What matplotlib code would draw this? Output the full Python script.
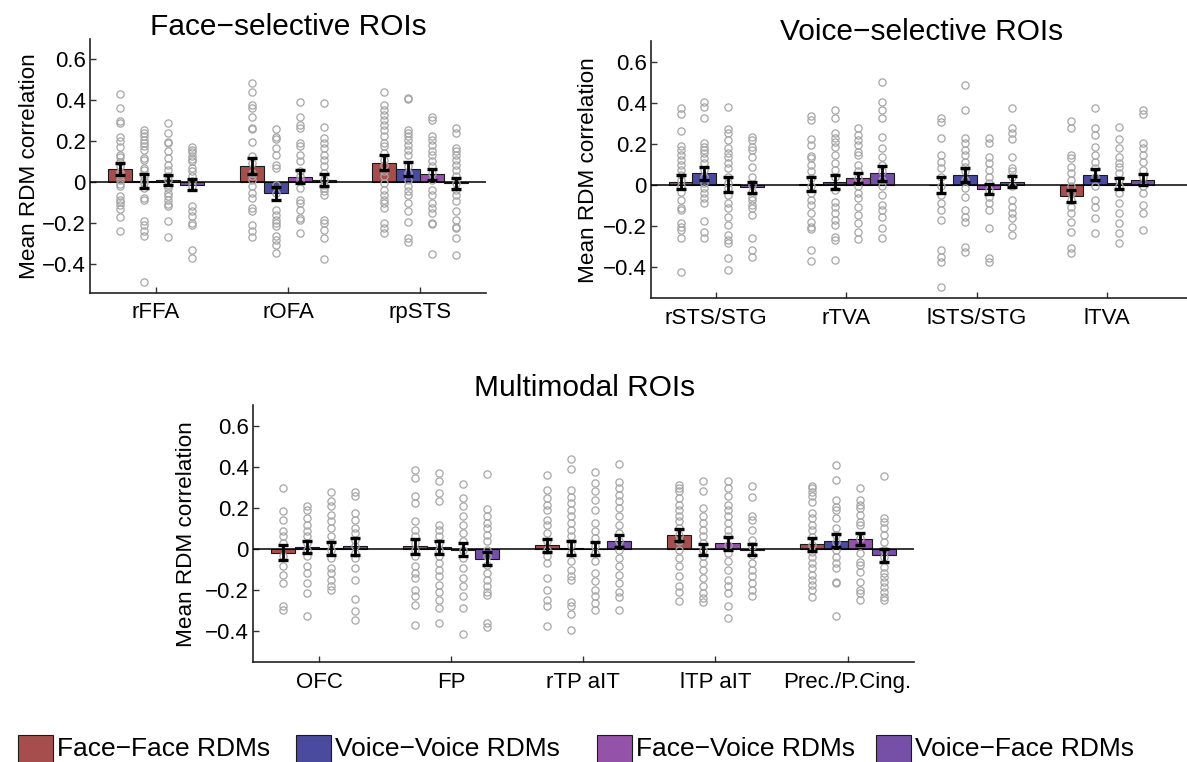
import matplotlib
matplotlib.use('Agg')
import matplotlib.pyplot as plt
from matplotlib.patches import Rectangle

plt.rcParams['font.family'] = ['Liberation Sans', 'DejaVu Sans']

# ---------------- data ----------------
series_names = ['Face\u2212Face RDMs', 'Voice\u2212Voice RDMs', 'Face\u2212Voice RDMs', 'Voice\u2212Face RDMs']
series_colors = ['#A64E4E', '#4A4A9E', '#9452A8', '#7650A6']

yticks = [0.6, 0.4, 0.2, 0.0, -0.2, -0.4]
ytick_labels = ['0.6', '0.4', '0.2', '0', '\u22120.2', '\u22120.4']

face_rois = ['rFFA', 'rOFA', 'rpSTS']
face_means = [[0.063, 0.005, 0.011, -0.013],
              [0.079, -0.056, 0.026, 0.011],
              [0.094, 0.065, 0.037, -0.006]]
face_sems = [[0.030, 0.033, 0.025, 0.027],
             [0.038, 0.033, 0.031, 0.029],
             [0.036, 0.034, 0.028, 0.028]]

voice_rois = ['rSTS/STG', 'rTVA', 'lSTS/STG', 'lTVA']
voice_means = [[0.016, 0.058, 0.005, -0.009],
               [0.006, 0.016, 0.036, 0.058],
               [0.002, 0.050, -0.018, 0.018],
               [-0.052, 0.052, 0.009, 0.028]]
voice_sems = [[0.032, 0.031, 0.037, 0.027],
              [0.033, 0.034, 0.025, 0.036],
              [0.038, 0.036, 0.026, 0.028],
              [0.029, 0.026, 0.025, 0.025]]

multi_rois = ['OFC', 'FP', 'rTP aIT', 'lTP aIT', 'Prec./P.Cing.']
multi_means = [[-0.020, 0.007, 0.002, 0.011],
               [0.011, 0.007, -0.004, -0.049],
               [0.017, 0.003, -0.001, 0.036],
               [0.067, -0.003, 0.026, -0.004],
               [0.022, 0.040, 0.049, -0.032]]
multi_sems = [[0.037, 0.029, 0.033, 0.040],
              [0.036, 0.033, 0.030, 0.031],
              [0.033, 0.036, 0.032, 0.029],
              [0.031, 0.026, 0.033, 0.029],
              [0.032, 0.032, 0.029, 0.033]]

# individual subject correlations (FF, VV, FV, VF) per ROI
rFFA_pts = [
    [0.43, 0.36, 0.30, 0.29, 0.22, 0.20, 0.17, 0.13, 0.12, 0.10, 0.08, 0.05, 0.04, 0.03, 0.01, -0.01, -0.02, -0.07, -0.09, -0.10, -0.11, -0.13, -0.17, -0.24],
    [0.255, 0.239, 0.223, 0.207, 0.19, 0.177, 0.158, 0.117, 0.109, 0.068, 0.06, 0.028, 0.011, -0.005, -0.029, -0.078, -0.089, -0.192, -0.208, -0.241, -0.265, -0.488],
    [0.288, 0.242, 0.198, 0.19, 0.15, 0.117, 0.085, 0.06, 0.028, 0.011, -0.013, -0.029, -0.054, -0.07, -0.086, -0.106, -0.119, -0.189, -0.27],
    [0.171, 0.158, 0.145, 0.128, 0.114, 0.101, 0.068, 0.052, 0.028, 0.003, -0.021, -0.119, -0.143, -0.167, -0.2, -0.208, -0.333, -0.371]]
rOFA_pts = [
    [0.483, 0.442, 0.377, 0.361, 0.32, 0.263, 0.26, 0.198, 0.125, 0.093, 0.044, 0.028, 0.011, -0.021, -0.054, -0.078, -0.127, -0.143, -0.208, -0.241, -0.268],
    [0.259, 0.22, 0.21, 0.166, 0.133, 0.085, 0.068, -0.013, -0.054, -0.135, -0.159, -0.184, -0.2, -0.216, -0.265, -0.281, -0.306, -0.346],
    [0.389, 0.32, 0.28, 0.263, 0.19, 0.174, 0.133, 0.101, 0.052, 0.028, 0.011, -0.029, -0.086, -0.102, -0.135, -0.176, -0.184, -0.249],
    [0.385, 0.268, 0.215, 0.19, 0.166, 0.133, 0.109, 0.076, 0.044, 0.011, -0.013, -0.029, -0.046, -0.062, -0.184, -0.2, -0.233, -0.273, -0.376]]
rpSTS_pts = [
    [0.442, 0.377, 0.353, 0.328, 0.304, 0.28, 0.255, 0.223, 0.19, 0.174, 0.141, 0.109, 0.085, 0.052, 0.028, -0.005, -0.037, -0.062, -0.086, -0.102, -0.127, -0.2, -0.224, -0.249],
    [0.41, 0.405, 0.255, 0.239, 0.223, 0.207, 0.182, 0.158, 0.133, 0.076, 0.044, 0.011, -0.021, -0.046, -0.062, -0.102, -0.143, -0.197, -0.273, -0.293],
    [0.32, 0.304, 0.223, 0.207, 0.182, 0.15, 0.133, 0.101, 0.076, 0.044, 0.011, -0.037, -0.062, -0.102, -0.127, -0.151, -0.2, -0.205, -0.35],
    [0.263, 0.239, 0.166, 0.15, 0.133, 0.109, 0.085, 0.06, 0.028, -0.005, -0.037, -0.062, -0.094, -0.143, -0.184, -0.22, -0.224, -0.273, -0.358]]

rSTS_pts = [
    [0.378, 0.347, 0.266, 0.191, 0.172, 0.148, 0.123, 0.099, 0.075, 0.05, 0.026, -0.006, -0.031, -0.071, -0.112, -0.12, -0.185, -0.201, -0.217, -0.258, -0.423],
    [0.407, 0.383, 0.326, 0.204, 0.188, 0.172, 0.156, 0.131, 0.107, 0.075, 0.042, 0.01, -0.015, -0.039, -0.063, -0.088, -0.172, -0.225, -0.258],
    [0.383, 0.273, 0.256, 0.221, 0.18, 0.156, 0.139, 0.107, 0.083, 0.042, 0.01, -0.015, -0.047, -0.088, -0.112, -0.152, -0.193, -0.242, -0.266, -0.282, -0.355, -0.412],
    [0.237, 0.221, 0.185, 0.172, 0.139, 0.091, 0.042, 0.002, -0.031, -0.055, -0.071, -0.096, -0.112, -0.144, -0.258, -0.315, -0.347]]
rTVA_pts = [
    [0.337, 0.318, 0.224, 0.196, 0.143, 0.131, 0.099, 0.067, 0.034, -0.006, -0.039, -0.071, -0.096, -0.136, -0.177, -0.201, -0.214, -0.315, -0.367],
    [0.367, 0.326, 0.253, 0.229, 0.212, 0.188, 0.148, 0.107, 0.075, 0.042, -0.023, -0.079, -0.104, -0.136, -0.169, -0.193, -0.25, -0.266, -0.363],
    [0.277, 0.245, 0.221, 0.196, 0.164, 0.148, 0.099, 0.067, 0.034, -0.006, -0.039, -0.063, -0.104, -0.144, -0.185, -0.225, -0.263],
    [0.504, 0.404, 0.367, 0.326, 0.237, 0.18, 0.139, 0.099, 0.067, 0.026, -0.006, -0.047, -0.096, -0.12, -0.152, -0.209, -0.258]]
lSTS_pts = [
    [0.326, 0.31, 0.229, 0.148, 0.115, 0.083, 0.042, -0.006, -0.047, -0.088, -0.12, -0.169, -0.315, -0.347, -0.371, -0.493],
    [0.488, 0.367, 0.229, 0.204, 0.172, 0.148, 0.115, 0.091, 0.067, 0.026, -0.015, -0.055, -0.12, -0.152, -0.177, -0.298, -0.323],
    [0.229, 0.204, 0.139, 0.107, 0.075, 0.042, 0.01, -0.023, -0.055, -0.088, -0.12, -0.209, -0.355, -0.375],
    [0.375, 0.277, 0.253, 0.224, 0.139, 0.083, 0.067, 0.042, -0.006, -0.071, -0.104, -0.136, -0.161, -0.201, -0.242]]
lTVA_pts = [
    [0.313, 0.277, 0.148, 0.131, 0.091, 0.058, 0.026, -0.006, -0.039, -0.071, -0.104, -0.136, -0.177, -0.225, -0.307, -0.331],
    [0.375, 0.277, 0.245, 0.188, 0.148, 0.115, 0.083, 0.042, -0.006, -0.071, -0.104, -0.161, -0.23],
    [0.282, 0.224, 0.18, 0.139, 0.107, 0.091, 0.058, 0.026, -0.006, -0.039, -0.088, -0.136, -0.185, -0.234, -0.282],
    [0.367, 0.347, 0.204, 0.18, 0.148, 0.115, 0.075, 0.042, -0.006, -0.039, -0.096, -0.136, -0.217]]

OFC_pts = [
    [0.295, 0.183, 0.142, 0.085, 0.06, 0.028, -0.037, -0.086, -0.127, -0.168, -0.282, -0.298],
    [0.21, 0.191, 0.15, 0.117, 0.085, 0.06, 0.028, -0.005, -0.037, -0.086, -0.119, -0.168, -0.217, -0.331],
    [0.275, 0.231, 0.207, 0.166, 0.134, 0.101, 0.06, 0.028, -0.005, -0.046, -0.095, -0.119, -0.152, -0.184, -0.2],
    [0.275, 0.256, 0.174, 0.142, 0.101, 0.077, 0.044, 0.011, -0.021, -0.046, -0.095, -0.152, -0.246, -0.306, -0.347]]
FP_pts = [
    [0.383, 0.346, 0.259, 0.223, 0.134, 0.093, 0.06, 0.028, -0.005, -0.037, -0.086, -0.119, -0.143, -0.2, -0.233, -0.274, -0.372],
    [0.37, 0.329, 0.272, 0.231, 0.117, 0.093, 0.06, 0.028, -0.005, -0.037, -0.07, -0.103, -0.135, -0.176, -0.209, -0.249, -0.292, -0.363],
    [0.316, 0.248, 0.207, 0.158, 0.117, 0.077, 0.036, -0.005, -0.046, -0.095, -0.143, -0.184, -0.233, -0.292, -0.416],
    [0.365, 0.194, 0.158, 0.126, 0.101, 0.068, 0.036, -0.005, -0.037, -0.078, -0.119, -0.152, -0.184, -0.209, -0.225, -0.363, -0.383]]
rTP_pts = [
    [0.362, 0.289, 0.248, 0.215, 0.191, 0.142, 0.117, 0.077, 0.036, -0.005, -0.037, -0.07, -0.143, -0.2, -0.249, -0.282, -0.38],
    [0.438, 0.39, 0.285, 0.253, 0.223, 0.191, 0.158, 0.126, 0.093, 0.06, 0.02, -0.021, -0.062, -0.103, -0.135, -0.152, -0.258, -0.282, -0.318, -0.399],
    [0.377, 0.321, 0.28, 0.236, 0.191, 0.126, 0.085, 0.052, 0.011, -0.021, -0.062, -0.119, -0.16, -0.2, -0.233, -0.266, -0.298],
    [0.414, 0.324, 0.297, 0.264, 0.231, 0.199, 0.158, 0.117, 0.077, 0.036, -0.005, -0.046, -0.086, -0.127, -0.168, -0.209, -0.236, -0.298]]
lTP_pts = [
    [0.313, 0.297, 0.28, 0.248, 0.215, 0.191, 0.158, 0.134, 0.101, 0.068, 0.036, -0.005, -0.046, -0.086, -0.135, -0.184, -0.209, -0.253],
    [0.333, 0.284, 0.199, 0.158, 0.126, 0.093, 0.06, 0.028, -0.005, -0.037, -0.07, -0.103, -0.143, -0.184, -0.217, -0.241, -0.262],
    [0.333, 0.297, 0.256, 0.215, 0.191, 0.158, 0.126, 0.093, 0.06, 0.02, -0.021, -0.062, -0.103, -0.152, -0.184, -0.217, -0.282, -0.339],
    [0.308, 0.253, 0.158, 0.142, 0.093, 0.044, 0.011, -0.029, -0.07, -0.103, -0.135, -0.168, -0.2, -0.233]]
Prec_pts = [
    [0.306, 0.295, 0.279, 0.258, 0.23, 0.176, 0.148, 0.116, 0.091, 0.059, 0.018, -0.015, -0.039, -0.072, -0.096, -0.129, -0.153, -0.178, -0.202, -0.235],
    [0.408, 0.336, 0.238, 0.205, 0.189, 0.148, 0.099, 0.067, 0.034, -0.007, -0.039, -0.072, -0.096, -0.161, -0.169, -0.328],
    [0.298, 0.238, 0.213, 0.197, 0.165, 0.132, 0.116, 0.051, -0.023, -0.064, -0.08, -0.112, -0.161, -0.202, -0.218, -0.251],
    [0.357, 0.148, 0.132, 0.099, 0.067, 0.034, -0.007, -0.039, -0.088, -0.121, -0.137, -0.161, -0.186, -0.21, -0.235, -0.251]]

face_pts = [rFFA_pts, rOFA_pts, rpSTS_pts]
voice_pts = [rSTS_pts, rTVA_pts, lSTS_pts, lTVA_pts]
multi_pts = [OFC_pts, FP_pts, rTP_pts, lTP_pts, Prec_pts]

# ---------------- figure ----------------
W, H = 1187, 762
fig = plt.figure(figsize=(W / 100, H / 100), dpi=100)


def px_axes(x0, x1, ytop, ybot):
    return fig.add_axes([x0 / W, 1 - ybot / H, (x1 - x0) / W, (ybot - ytop) / H])


BW = 0.182
offsets = [-1.5 * BW, -0.5 * BW, 0.5 * BW, 1.5 * BW]
TICK_FS = 16


def draw_panel(ax, rois, means, sems, pts, xlim, ylim):
    n = len(rois)
    for i in range(n):
        for k in range(4):
            x = (i + 1) + offsets[k]
            ax.bar(x, means[i][k], width=BW, color=series_colors[k],
                   edgecolor='#1a1a1a', linewidth=0.8, zorder=2)
            ys = pts[i][k]
            ax.plot([x] * len(ys), ys, linestyle='none', marker='o', markersize=5.2,
                    markerfacecolor='none', markeredgecolor='#a6a6a6',
                    markeredgewidth=0.9, zorder=4)
            ax.errorbar(x, means[i][k], yerr=sems[i][k], fmt='none', ecolor='black',
                        elinewidth=2.0, capsize=3.8, capthick=2.4, zorder=5)
    ax.axhline(0, color='black', linewidth=1.1, zorder=3)
    ax.set_xlim(*xlim)
    ax.set_ylim(*ylim)
    ax.set_xticks(range(1, n + 1))
    ax.set_xticklabels(rois, fontsize=TICK_FS)
    ax.set_yticks(yticks)
    ax.set_yticklabels(ytick_labels, fontsize=TICK_FS)
    ax.tick_params(direction='in', length=4, width=1, color='#333333')
    ax.tick_params(axis='x', pad=7)
    ax.tick_params(axis='y', pad=3)
    for s in ['top', 'right']:
        ax.spines[s].set_visible(False)
    for s in ['left', 'bottom']:
        ax.spines[s].set_color('#222222')
        ax.spines[s].set_linewidth(1.2)


ax1 = px_axes(90, 486, 38.8, 292.5)
draw_panel(ax1, face_rois, face_means, face_sems, face_pts, (0.5, 3.5), (-0.54, 0.7))

x_right_tr = 0.5 + (1187 - 651) / 130.3
ax2 = px_axes(651, 1187, 41.4, 298.3)
draw_panel(ax2, voice_rois, voice_means, voice_sems, voice_pts, (0.5, x_right_tr), (-0.55, 0.7))

ax3 = px_axes(253, 913.7, 405.5, 662.3)
draw_panel(ax3, multi_rois, multi_means, multi_sems, multi_pts, (0.5, 5.5), (-0.555, 0.7))

# titles
TITLE_FS = 21.5
fig.text(288.5 / W, 1 - 35 / H, 'Face\u2212selective ROIs', fontsize=TITLE_FS, ha='center', va='baseline')
fig.text(922 / W, 1 - 40 / H, 'Voice\u2212selective ROIs', fontsize=TITLE_FS, ha='center', va='baseline')
fig.text(584.5 / W, 1 - 396 / H, 'Multimodal ROIs', fontsize=TITLE_FS, ha='center', va='baseline')

# y labels
YL_FS = 16.2
fig.text(30 / W, 1 - 166 / H, 'Mean RDM correlation', fontsize=YL_FS, rotation=90, ha='center', va='center')
fig.text(588 / W, 1 - 170 / H, 'Mean RDM correlation', fontsize=YL_FS, rotation=90, ha='center', va='center')
fig.text(186 / W, 1 - 534 / H, 'Mean RDM correlation', fontsize=YL_FS, rotation=90, ha='center', va='center')

# legend
leg_patch_x = [18, 296, 597, 876]
for k in range(4):
    x0 = leg_patch_x[k]
    fig.patches.append(Rectangle((x0 / W, 1 - 764 / H), 35 / W, 29 / H,
                                 transform=fig.transFigure, facecolor=series_colors[k],
                                 edgecolor='#1a1a1a', linewidth=0.8))
    fig.text((x0 + 39) / W, 1 - 749 / H, series_names[k], fontsize=19,
             ha='left', va='center')

fig.savefig('out.png', dpi=100)
